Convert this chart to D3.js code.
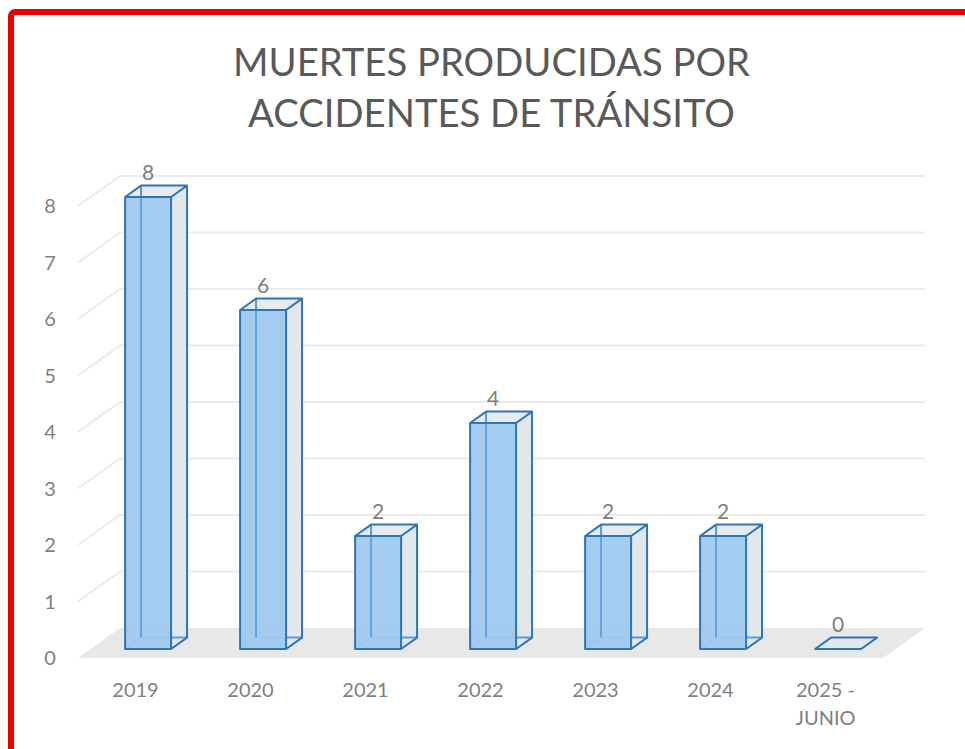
<!DOCTYPE html>
<html>
<head>
<meta charset="utf-8">
<script src="https://cdn.jsdelivr.net/npm/d3@7"></script>
<style>
  html, body { margin: 0; padding: 0; background: #ffffff; }
  svg { display: block; }
  text { font-family: Lato, "Open Sans", sans-serif; }
</style>
</head>
<body>
<svg id="chart" width="965" height="749"></svg>
<script>
// ---- data ----
const titleLines = ["MUERTES PRODUCIDAS POR", "ACCIDENTES DE TRÁNSITO"];
const categories = ["2019", "2020", "2021", "2022", "2023", "2024", "2025 - JUNIO"];
const categoryLines = [["2019"], ["2020"], ["2021"], ["2022"], ["2023"], ["2024"], ["2025 -", "JUNIO"]];
const values = [8, 6, 2, 4, 2, 2, 0];
const yTicks = [0, 1, 2, 3, 4, 5, 6, 7, 8];

// ---- layout ----
const svg = d3.select("#chart");
const W = 965, H = 749;
const depthX = 42, depthY = -30;        // front -> back wall offset
const barFront = 0.30, barBack = 0.68;  // bar depth, as fraction of floor depth
const barHalf = 23;

const x = d3.scaleBand().domain(categories).range([78, 883]).paddingInner(0).paddingOuter(0);
const y = d3.scaleLinear().domain([0, 8]).range([658, 206]);

function P(xf, v, d) { return [xf + d * depthX, y(v) + d * depthY]; }
const line = d3.line();

// background
svg.append("rect").attr("width", W).attr("height", H).attr("fill", "#ffffff");

// red frame
svg.append("rect")
  .attr("x", 11).attr("y", 12).attr("width", W + 50).attr("height", H + 50)
  .attr("rx", 4).attr("fill", "none").attr("stroke", "#ee0000").attr("stroke-width", 6);

// title
const title = svg.append("g").attr("fill", "#595959");
titleLines.forEach((t, i) => {
  title.append("text")
    .attr("x", 491.5).attr("y", [76, 127][i])
    .attr("text-anchor", "middle")
    .attr("font-size", 40)
    .text(t);
});
// fit title line 1 to reference width
(function () {
  const nodes = title.selectAll("text").nodes();
  const w = nodes[0].getComputedTextLength();
  const fs = 40 * 517 / w;
  nodes.forEach(n => n.setAttribute("font-size", fs.toFixed(2)));
})();

// floor
const x0 = x.range()[0], x1 = x.range()[1];
svg.append("path")
  .attr("d", line([P(x0, 0, 0), P(x1, 0, 0), P(x1, 0, 1), P(x0, 0, 1)]) + "Z")
  .attr("fill", "#e8e8e8");

// gridlines (back wall + left wall diagonal)
const grid = svg.append("g").attr("stroke", "#ebebeb").attr("stroke-width", 2).attr("fill", "none");
yTicks.filter(v => v > 0).forEach(v => {
  grid.append("path").attr("d", line([P(x0, v, 0), P(x0, v, 1), P(x1, v, 1)]));
});

// y axis labels
svg.append("g").selectAll("text").data(yTicks).join("text")
  .attr("x", 50).attr("y", d => y(d))
  .attr("dy", "0.36em")
  .attr("text-anchor", "middle")
  .attr("font-size", 20)
  .attr("fill", "#7f7f7f")
  .text(d => d);

// bars
const stroke = "#2e75b6";
const bars = svg.append("g");
categories.forEach((c, i) => {
  const v = values[i];
  const cx = x(c) + x.bandwidth() / 2;
  const L = cx - barHalf, R = cx + barHalf;
  const fbl = P(L, 0, barFront), fbr = P(R, 0, barFront), ftl = P(L, v, barFront), ftr = P(R, v, barFront);
  const bbl = P(L, 0, barBack), bbr = P(R, 0, barBack), btl = P(L, v, barBack), btr = P(R, v, barBack);
  const g = bars.append("g").attr("stroke-linejoin", "round");
  if (v === 0) {
    g.append("path").attr("d", line([fbl, fbr, bbr, bbl]) + "Z")
      .attr("fill", "#e3e8ed").attr("stroke", stroke).attr("stroke-width", 2);
  } else {
    // right side face
    g.append("path").attr("d", line([fbr, bbr, btr, ftr]) + "Z")
      .attr("fill", "#e2e7ec").attr("stroke", "none");
    // top face
    g.append("path").attr("d", line([ftl, ftr, btr, btl]) + "Z")
      .attr("fill", "#e6ebf0").attr("stroke", "none");
    // hidden back edges seen through translucent faces
    g.append("path").attr("d", line([bbl, btl]) + "M" + bbl + "L" + bbr)
      .attr("fill", "none").attr("stroke", "#5b9bd5").attr("stroke-width", 2);
    g.append("path").attr("d", line([fbl, bbl]))
      .attr("fill", "none").attr("stroke", "#5b9bd5").attr("stroke-width", 2);
    // front face
    g.append("path").attr("d", line([fbl, fbr, ftr, ftl]) + "Z")
      .attr("fill", "#9fc8ef").attr("fill-opacity", 0.95).attr("stroke", "none");
    // back vertical edge seen through front face
    g.append("path").attr("d", line([bbl, btl]))
      .attr("fill", "none").attr("stroke", "#5b9bd5").attr("stroke-width", 1.8).attr("stroke-opacity", 0.9);
    // visible outline edges
    g.append("path")
      .attr("d", line([fbl, fbr, ftr, ftl]) + "Z" +
                 "M" + ftl + "L" + btl + "L" + btr + "L" + ftr +
                 "M" + btr + "L" + bbr + "L" + fbr)
      .attr("fill", "none").attr("stroke", stroke).attr("stroke-width", 2);
  }
  // value label
  const top = P(cx, v, barBack);
  g.append("text")
    .attr("x", P(cx, v, barFront)[0]).attr("y", top[1] - 6)
    .attr("text-anchor", "middle")
    .attr("font-size", 21)
    .attr("fill", "#7f7f7f")
    .attr("stroke", "none")
    .text(v);
});

// category labels
const cat = svg.append("g").attr("fill", "#7f7f7f");
categories.forEach((c, i) => {
  const cx = x(c) + x.bandwidth() / 2;
  categoryLines[i].forEach((t, j) => {
    cat.append("text")
      .attr("x", cx).attr("y", 690 + j * 28)
      .attr("dy", "0.36em")
      .attr("text-anchor", "middle")
      .attr("font-size", 20)
      .text(t);
  });
});
</script>
</body>
</html>
